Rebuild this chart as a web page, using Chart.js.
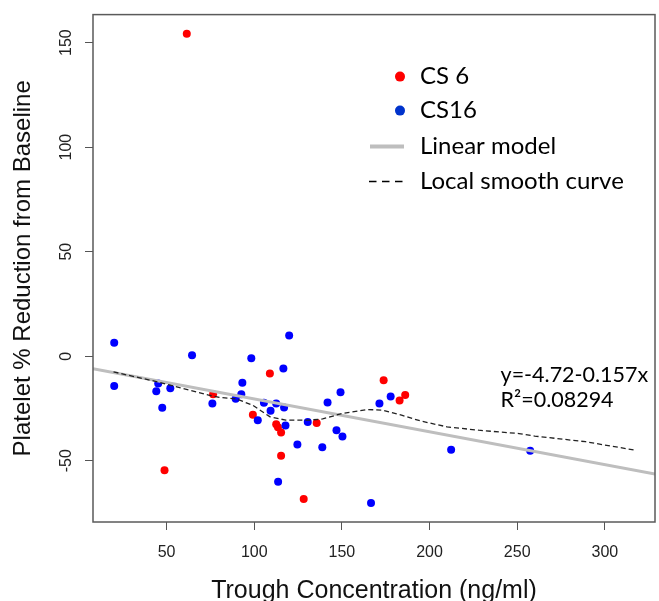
<!DOCTYPE html>
<html>
<head>
<meta charset="utf-8">
<title>Platelet reduction vs trough concentration</title>
<script src="https://cdn.jsdelivr.net/npm/chart.js@4.4.1/dist/chart.umd.min.js"></script>
<style>
  html, body { margin: 0; padding: 0; background: #fff; }
  #wrap { width: 659px; height: 601px; }
</style>
</head>
<body>
<div id="wrap"><canvas id="plateletChart" width="659" height="601"></canvas></div>
<script>
// CS 6 (red points)
var cs6X = [61.5, 48.8, 76.5, 99.2, 108.9, 112.5, 113.5, 115.3, 115.3, 128.2, 135.6, 173.8, 182.9, 186.1];
var cs6Y = [154.2, -54.5, -18.2, -28.0, -8.3, -32.6, -34.0, -36.5, -47.6, -68.3, -32.0, -11.5, -21.2, -18.6];

// CS16 (blue points)
var cs16X = [20.1, 20.1, 64.5, 45.2, 44.1, 52.1, 47.5, 76.1, 89.4, 92.6, 93.2, 98.3, 102.0, 116.6, 119.9, 105.5, 109.3,
             112.5, 117.0, 117.8, 113.6, 124.6, 130.5, 138.8, 141.8, 149.2, 146.9, 150.3, 166.6, 171.4, 177.8, 212.3, 257.4];
var cs16Y = [6.4, -14.3, 0.5, -13.1, -16.7, -15.3, -24.7, -22.6, -20.4, -18.2, -12.7, -1.0, -30.6, -5.9, 9.9, -22.3, -26.1,
             -22.6, -24.5, -33.1, -60.0, -42.2, -31.5, -43.6, -22.1, -17.2, -35.4, -38.4, -70.2, -22.6, -19.3, -44.8, -45.2];

// linear model, read at the two plot edges
var lmX = [8.0, 328.6];
var lmY = [-6.0, -56.3];

// local smooth (loess) curve
var loessX = [19.7, 45, 63, 74, 80, 90, 99, 109, 118, 131, 139, 150, 165, 173, 184, 195, 210, 228, 251, 260, 289, 317];
var loessY = [-7.5, -12.3, -16.2, -18.6, -19.7, -20.5, -23.4, -29.0, -30.6, -30.6, -30.0, -27.4, -25.5, -25.8, -28.2,
              -31.0, -33.8, -35.4, -37.0, -38.2, -40.9, -44.9];

var xTicks = [50, 100, 150, 200, 250, 300];
var yTicks = [-50, 0, 50, 100, 150];
var fitText = ['y=-4.72-0.157x', 'R\u00b2=0.08294'];

function toPoints(xs, ys) {
    return xs.map(function (x, i) { return { x: x, y: ys[i] }; });
}

var axisFont = '"Liberation Sans", Arial, sans-serif';
var noteFont = 'Lato, "Open Sans", sans-serif';

// plot box like R's box()
var boxPlugin = {
    id: 'plotBox',
    afterDraw: function (chart) {
        var a = chart.chartArea, ctx = chart.ctx;
        ctx.save();
        ctx.strokeStyle = '#5a5a5a';
        ctx.lineWidth = 1.5;
        ctx.strokeRect(a.left, a.top, a.right - a.left, a.bottom - a.top);
        ctx.restore();
    }
};

// legend inside the plot, drawn from the dataset styles
var legendPlugin = {
    id: 'insideLegend',
    afterDatasetsDraw: function (chart) {
        var ctx = chart.ctx, a = chart.chartArea;
        var ds = chart.data.datasets;
        var rows = [
            { ds: ds[3], kind: 'dot', color: '#ff0000', dy: 62 },
            { ds: ds[2], kind: 'dot', color: '#0033cc', dy: 96 },
            { ds: ds[1], kind: 'line', dy: 132 },
            { ds: ds[0], kind: 'dash', dy: 167 }
        ];
        ctx.save();
        rows.forEach(function (r) {
            var y = a.top + r.dy;
            if (r.kind === 'dot') {
                ctx.fillStyle = r.color;
                ctx.beginPath();
                ctx.arc(a.left + 307, y, 5, 0, Math.PI * 2);
                ctx.fill();
            } else if (r.kind === 'line') {
                ctx.strokeStyle = r.ds.borderColor;
                ctx.lineWidth = 4;
                ctx.beginPath();
                ctx.moveTo(a.left + 277, y);
                ctx.lineTo(a.left + 311, y);
                ctx.stroke();
            } else {
                ctx.strokeStyle = '#000';
                ctx.lineWidth = 1.5;
                ctx.setLineDash([7.5, 5.5]);
                ctx.beginPath();
                ctx.moveTo(a.left + 276, y);
                ctx.lineTo(a.left + 311, y);
                ctx.stroke();
                ctx.setLineDash([]);
            }
            ctx.fillStyle = '#000';
            ctx.font = '24px ' + noteFont;
            ctx.textAlign = 'left';
            ctx.textBaseline = 'middle';
            ctx.fillText(r.ds.label, a.left + 327, y);
        });
        ctx.restore();
    }
};

// regression equation text
var fitPlugin = {
    id: 'fitNote',
    afterDatasetsDraw: function (chart) {
        var ctx = chart.ctx;
        var xs = chart.scales.x, ys = chart.scales.y;
        var px = xs.getPixelForValue(240.5);
        ctx.save();
        ctx.fillStyle = '#000';
        ctx.font = '21.5px ' + noteFont;
        ctx.textAlign = 'left';
        ctx.textBaseline = 'middle';
        ctx.fillText(fitText[0], px, ys.getPixelForValue(-9.1));
        ctx.fillText(fitText[1], px, ys.getPixelForValue(-21.0));
        ctx.restore();
    }
};

var ctx = document.getElementById('plateletChart').getContext('2d');
window.plateletChart = new Chart(ctx, {
    type: 'scatter',
    data: {
        datasets: [
            {
                label: 'Local smooth curve',
                data: toPoints(loessX, loessY),
                showLine: true,
                borderColor: '#222222',
                borderWidth: 1.3,
                borderDash: [5, 3],
                pointRadius: 0,
                fill: false,
                order: 0
            },
            {
                label: 'Linear model',
                data: toPoints(lmX, lmY),
                showLine: true,
                borderColor: '#bebebe',
                borderWidth: 3,
                pointRadius: 0,
                fill: false,
                order: 1
            },
            {
                label: 'CS16',
                data: toPoints(cs16X, cs16Y),
                backgroundColor: '#0000ff',
                borderWidth: 0,
                pointRadius: 4,
                order: 2
            },
            {
                label: 'CS 6',
                data: toPoints(cs6X, cs6Y),
                backgroundColor: '#ff0000',
                borderWidth: 0,
                pointRadius: 4,
                order: 3
            }
        ]
    },
    options: {
        responsive: false,
        devicePixelRatio: 1,
        animation: false,
        layout: { padding: { left: 0, right: 2, top: 14, bottom: 0 } },
        plugins: {
            legend: { display: false },
            tooltip: { enabled: false }
        },
        scales: {
            x: {
                type: 'linear',
                position: 'bottom',
                min: 8,
                max: 328.6,
                afterBuildTicks: function (s) { s.ticks = xTicks.map(function (v) { return { value: v }; }); },
                afterFit: function (s) { s.height = 79; },
                grid: { drawOnChartArea: false, drawTicks: true, tickLength: 8, color: '#555', lineWidth: 1 },
                border: { display: false },
                ticks: {
                    autoSkip: false, maxRotation: 0, minRotation: 0, padding: 13,
                    color: '#222', font: { family: axisFont, size: 16 }
                },
                title: {
                    display: true,
                    text: 'Trough Concentration (ng/ml)',
                    color: '#111',
                    font: { family: axisFont, size: 25, lineHeight: 0.8 },
                    padding: { top: 0, bottom: 0 }
                }
            },
            y: {
                type: 'linear',
                min: -79.3,
                max: 163.4,
                afterBuildTicks: function (s) { s.ticks = yTicks.map(function (v) { return { value: v }; }); },
                afterFit: function (s) { s.width = 93; },
                grid: { drawOnChartArea: false, drawTicks: true, tickLength: 8, color: '#555', lineWidth: 1 },
                border: { display: false },
                ticks: {
                    autoSkip: false, minRotation: 90, maxRotation: 90, crossAlign: 'center', padding: 5,
                    color: '#222', font: { family: axisFont, size: 16 }
                },
                title: {
                    display: true,
                    text: 'Platelet % Reduction from Baseline',
                    color: '#111',
                    font: { family: axisFont, size: 24, lineHeight: 0.85 },
                    padding: { top: 13, bottom: 0 }
                }
            }
        }
    },
    plugins: [boxPlugin, legendPlugin, fitPlugin]
});
</script>
</body>
</html>
